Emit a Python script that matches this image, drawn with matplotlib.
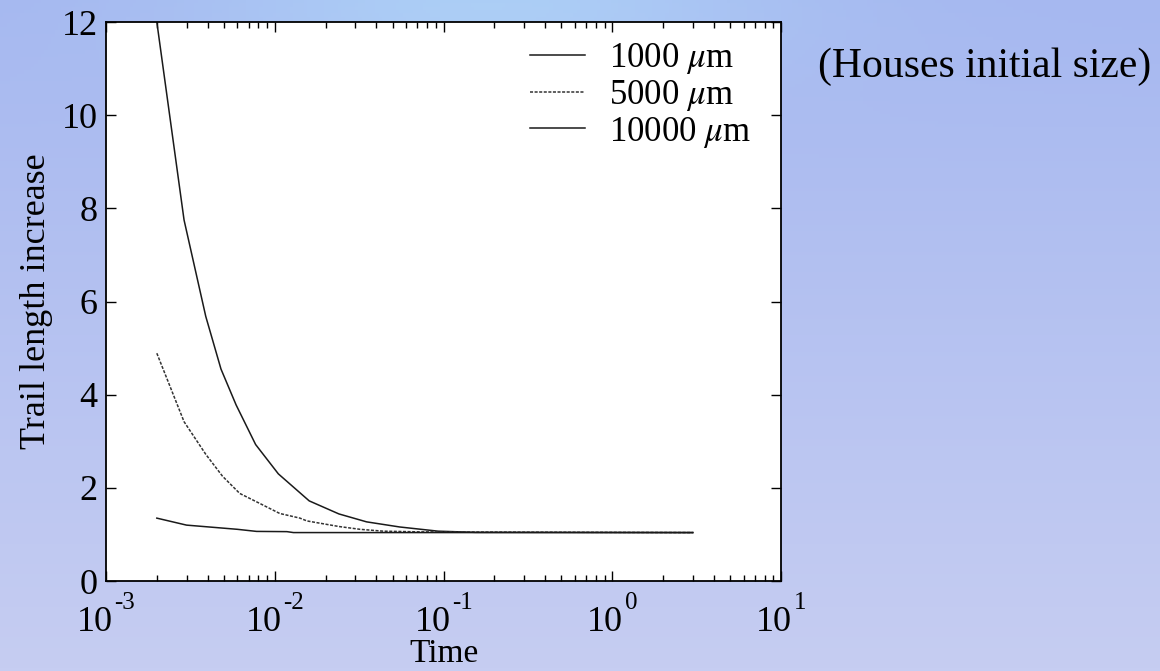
import numpy as np
import matplotlib.pyplot as plt
from matplotlib.ticker import LogLocator, NullFormatter

plt.rcParams['font.family'] = ['Liberation Serif', 'DejaVu Serif']
plt.rcParams['mathtext.fontset'] = 'stix'

# Trail length increase vs time for three initial house sizes
time_1000 = [0.002, 0.0029, 0.0039, 0.0048, 0.0059, 0.0077, 0.0105, 0.016, 0.024, 0.035, 0.055, 0.093, 0.154, 3.0]
len_1000 = [12.0, 7.75, 5.68, 4.55, 3.78, 2.93, 2.30, 1.72, 1.44, 1.27, 1.16, 1.07, 1.045, 1.04]

time_5000 = [0.002, 0.0029, 0.0039, 0.0049, 0.0062, 0.0078, 0.0107, 0.0141, 0.0155, 0.024, 0.032, 0.044, 0.072, 3.0]
len_5000 = [4.89, 3.42, 2.72, 2.25, 1.88, 1.70, 1.45, 1.35, 1.29, 1.17, 1.11, 1.07, 1.055, 1.04]

time_10000 = [0.002, 0.003, 0.006, 0.0078, 0.0118, 0.0129, 3.0]
len_10000 = [1.35, 1.20, 1.11, 1.065, 1.06, 1.04, 1.04]

sizes = ['1000', '5000', '10000']
ytick_vals = [0, 2, 4, 6, 8, 10, 12]
xtick_exps = [-3, -2, -1, 0, 1]

fig = plt.figure(figsize=(11.6, 6.71), dpi=100)

# blue slide-style background
bg = fig.add_axes([0, 0, 1, 1], zorder=-5)
h, w = 200, 340
yy, xx = np.mgrid[0:1:h * 1j, 0:1:w * 1j]
top = np.array([166, 184, 240]) / 255
bottom = np.array([198, 205, 242]) / 255
img = top[None, None, :] * (1 - yy[..., None]) + bottom[None, None, :] * yy[..., None]
glow = np.exp(-(((xx - 0.42) / 0.25) ** 2 + (yy / 0.12) ** 2))
img = img + glow[..., None] * (np.array([172, 206, 246]) / 255 - top)[None, None, :]
bg.imshow(np.clip(img, 0, 1), aspect='auto', extent=[0, 1, 0, 1])
bg.axis('off')

ax = fig.add_axes([0.0914, 0.1341, 0.5819, 0.8331])
ax.set_facecolor('white')

ax.plot(time_1000, len_1000, color='#1a1a1a', lw=1.1, label=sizes[0] + r' $\mu$m')
ax.plot(time_5000, len_5000, color='#333333', lw=1.1, ls=(0, (2, 1)), label=sizes[1] + r' $\mu$m')
ax.plot(time_10000, len_10000, color='#1a1a1a', lw=1.1, label=sizes[2] + r' $\mu$m')

ax.set_xscale('log')
ax.set_xlim(1e-3, 1e1)
ax.set_ylim(0, 12)
ax.set_yticks(ytick_vals)
ax.xaxis.set_major_locator(LogLocator(base=10, numticks=10))
ax.xaxis.set_minor_locator(LogLocator(base=10, subs=np.arange(2, 10), numticks=10))
ax.xaxis.set_major_formatter(NullFormatter())
ax.xaxis.set_minor_formatter(NullFormatter())

# decade labels written as "10" with a raised exponent
xt = ax.get_xaxis_transform()
for n in xtick_exps:
    d = 7 if n < 0 else 11
    ax.annotate('10', xy=(10.0 ** n, 0), xycoords=xt, xytext=(d, -50),
                textcoords='offset pixels', ha='right', va='baseline', fontsize=26)
    ax.annotate(str(n), xy=(10.0 ** n, 0), xycoords=xt, xytext=(d + 1.5, -28),
                textcoords='offset pixels', ha='left', va='baseline', fontsize=18)

ax.tick_params(which='both', direction='in', top=True, right=True, labelsize=26, width=1)
ax.tick_params(which='major', length=7)
ax.tick_params(which='minor', length=4)
ax.tick_params(axis='y', pad=6)
for s in ax.spines.values():
    s.set_linewidth(1.3)

ax.set_xlabel('Time', fontsize=24)
ax.xaxis.set_label_coords(0.5, -0.103)
ax.set_ylabel('Trail length increase', fontsize=26, labelpad=6)

ax.legend(loc='upper right', frameon=False, fontsize=25, handlelength=1.6,
          handletextpad=0.7, labelspacing=0.05, borderaxespad=0.15,
          bbox_to_anchor=(0.985, 1.0))

fig.text(0.705, 0.9, '(Houses initial size)', fontsize=30, va='center', ha='left')

plt.savefig('out.png', dpi=100)
